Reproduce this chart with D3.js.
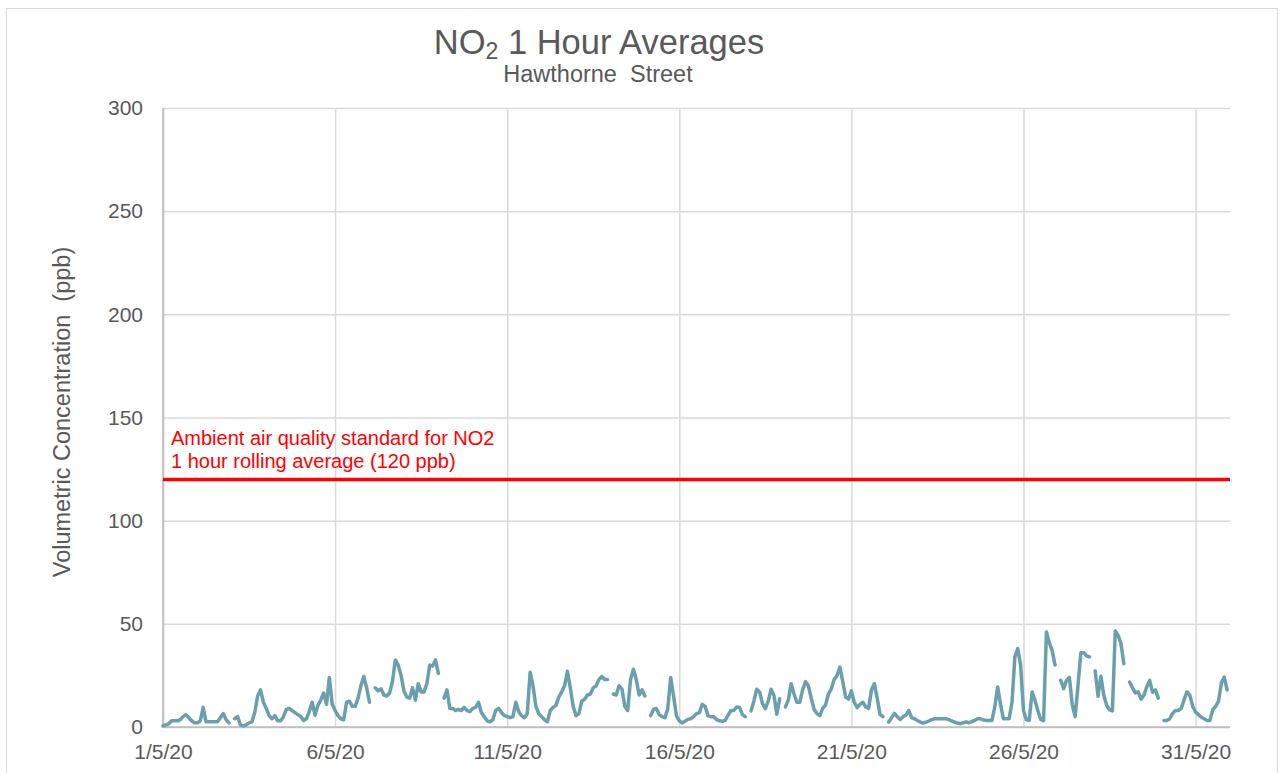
<!DOCTYPE html>
<html><head><meta charset="utf-8">
<script src="https://cdn.jsdelivr.net/npm/d3@7"></script>
<style>
body{margin:0;background:#fff;}
text{font-family:"Liberation Sans",Arial,sans-serif;}
</style>
</head><body>
<svg id="chart" width="1285" height="773"></svg>
<script>
// ---------- data ----------
const titleMain = "NO";
const titleSub = "2";
const titleRest = " 1 Hour Averages";
const subtitle = "Hawthorne  Street";
const yAxisTitle = "Volumetric Concentration  (ppb)";
const standardValue = 120;
const standardLabel = ["Ambient air quality standard for NO2", "1 hour rolling average (120 ppb)"];
const yTicks = [0, 50, 100, 150, 200, 250, 300];
const xTickDays = [1, 6, 11, 16, 21, 26, 31];   // day of May 2020
const stepHours = 2;                              // readings every 2 hours from 1/5/20 00:00
// NO2 (ppb), 12 readings per day, null = missing
const no2 = [
  0.5, 1, 1.5, 3, 3, 3, 3.5, 5, 6, 4.5, 3, 2,
  2, 3, 9.5, 2.5, 2.5, 2.5, 2.5, 2.5, 4.5, 6.5, 3.5, 2,
  null, 4, 5, 1, 0.5, 1, 2, 2.5, 7, 15, 18, 12,
  9, 5.5, 4, 5.5, 3, 3, 5, 8.5, 9, 8, 7, 6,
  5, 3.2, 4, 7.5, 12, 5.7, 10.5, 13, 16.5, 11, 24, 11,
  8, 5.5, 4, 3.5, 12, 12.5, 10, 10, 14, 20, 24.5, 19,
  12, null, 19, 17.5, 18.5, 15.5, 15, 16.5, 22, 32.5, 30, 25,
  17.5, 14.5, 14, 19, 13, 21, 17, 17, 21, 30, 29.5, 32.5,
  26, null, 14, 18, 9, 9, 8, 8.5, 8, 9.5, 8, 7.5,
  9, 9.5, 12, 7, 5, 3, 2.5, 3.5, 8, 9, 7, 5.5,
  5, 4.5, 5, 12, 7.5, 5.5, 4.5, 6.5, 26.5, 20, 10, 6.5,
  5, 3.5, 2.5, 8, 9.5, 10.5, 14.5, 17, 20, 27, 19, 10,
  5.5, 6.5, 12.5, 13.5, 15.5, 16, 19, 20, 23, 24.5, 23, 23,
  null, 16, 15.5, 20, 18.5, 10, 8, 23, 28, 23, 15.5, 18,
  15, null, 5.5, 8.5, 9, 6, 5, 4.5, 9, 24, 15, 5.5,
  3, 2, 2.8, 3.7, 4, 5, 6.5, 7, 11, 10, 5.5, 5,
  5, 3.6, 3, 2.8, 3.2, 5.7, 8, 8, 9.7, 9.5, 6, 5,
  null, 7.8, 12.5, 18.3, 17, 11.3, 8.9, 12.5, 18.3, 15.4, 6.2, 13.7,
  null, 9.7, 13, 21, 16, 12, 12, 18, 22, 20, 14, 8.5,
  6.5, 5.5, 9, 10.7, 16, 18.5, 23, 25, 29, 22, 14.5, 13.5,
  17.5, 12, 9.4, 11, 12, 9.7, 9, 18, 21, 14, 6, 5,
  null, 2.4, 4.4, 6.6, 5, 3.7, 5, 5.7, 8, 4.5, 4, 3.2,
  2.4, 1.9, 2.3, 2.9, 3.6, 4, 4, 4, 4, 4, 3.6, 2.9,
  2.4, 1.9, 1.6, 2.1, 2.4, 2.1, 2.6, 3.2, 4, 4, 3.4, 3.2,
  3.2, 3.2, 9.7, 19.4, 11, 4, 4, 4, 12, 34, 38, 30,
  8, 3.5, 3.2, 17, 13, 8, 3.7, 3, 46, 41, 37, 30,
  null, 22.6, 18.6, 22.6, 24, 11, 5, 20, 36, 36, 34.5, 34,
  null, 27.2, 14.9, 24.6, 15.4, 10.5, 8.4, 7.8, 46.5, 44.4, 40.4, 30.7,
  null, 21.8, 19, 16.5, 17, 13.5, 15.4, 19.5, 22.6, 16.8, 18, 14,
  null, 3.2, 3.2, 4, 6.6, 8, 8, 9, 13.3, 17, 15.4, 10,
  7.3, 6, 4.7, 4, 3.2, 3.2, 8.4, 10, 12.5, 21.3, 24.2, 18
];

// ---------- chart ----------
const W = 1285, H = 773;
const margin = {left: 163, right: 55, top: 108, bottom: 46};
const svg = d3.select("#chart");
const start = Date.UTC(2020, 4, 1);
const series = no2.map((v, i) => ({t: new Date(start + i * stepHours * 3600e3), v}));

const x = d3.scaleUtc()
  .domain([new Date(Date.UTC(2020, 4, 1)), new Date(Date.UTC(2020, 5, 1))])
  .range([margin.left, W - margin.right]);
const y = d3.scaleLinear().domain([0, 300]).range([H - margin.bottom, margin.top]);

// outer frame
svg.append("rect").attr("x", 6.5).attr("y", 8.5).attr("width", 1271).attr("height", 800)
  .attr("fill", "none").attr("stroke", "#d9d9d9").attr("stroke-width", 1);

const tickDates = xTickDays.map(d => new Date(Date.UTC(2020, 4, d)));
const fmt = d3.utcFormat("%-d/%-m/%y");
const FONT = "'Liberation Sans', Arial, sans-serif";

// horizontal grid
const yAxis = d3.axisLeft(y).tickValues(yTicks).tickSize(-(W - margin.left - margin.right)).tickPadding(20);
const gy = svg.append("g").attr("transform", `translate(${margin.left},0)`).call(yAxis);
gy.select(".domain").remove();
gy.selectAll(".tick line").attr("stroke", d => d === 0 ? "#bfbfbf" : "#d9d9d9").attr("stroke-width", 1.5);
gy.selectAll(".tick text").attr("fill", "#595959").attr("font-size", 21).attr("font-family", FONT);

// vertical grid + x labels
const xAxis = d3.axisBottom(x).tickValues(tickDates).tickFormat(fmt)
  .tickSize(-(H - margin.top - margin.bottom)).tickPadding(17);
const gx = svg.append("g").attr("transform", `translate(0,${H - margin.bottom})`).call(xAxis);
gx.select(".domain").remove();
gx.selectAll(".tick line").attr("stroke", (d, i) => i === 0 ? "#bfbfbf" : "#d9d9d9").attr("stroke-width", 1.5);
gx.selectAll(".tick text").attr("fill", "#595959").attr("font-size", 21).attr("font-family", FONT);

// axis lines
svg.append("line").attr("x1", margin.left).attr("x2", W - margin.right)
  .attr("y1", y(0)).attr("y2", y(0)).attr("stroke", "#bfbfbf").attr("stroke-width", 1.5);
svg.append("line").attr("x1", margin.left).attr("x2", margin.left)
  .attr("y1", y(0)).attr("y2", y(300)).attr("stroke", "#bfbfbf").attr("stroke-width", 1.5);

// data line
const line = d3.line().defined(d => d.v != null).x(d => x(d.t)).y(d => y(d.v));
svg.append("path").datum(series).attr("d", line)
  .attr("fill", "none").attr("stroke", "#6a9fae").attr("stroke-width", 3.5)
  .attr("stroke-linejoin", "round").attr("stroke-linecap", "round");

// standard line
svg.append("line").attr("x1", margin.left).attr("x2", W - margin.right)
  .attr("y1", y(standardValue)).attr("y2", y(standardValue))
  .attr("stroke", "#ff0000").attr("stroke-width", 3.5);
svg.append("text").attr("x", 171).attr("y", 445).attr("fill", "#ff0000").attr("font-size", 20)
  .selectAll("tspan").data(standardLabel).join("tspan")
  .attr("x", 171).attr("dy", (d, i) => i === 0 ? 0 : 23).text(d => d);

// titles
const t = svg.append("text").attr("x", 599).attr("y", 54).attr("text-anchor", "middle")
  .attr("fill", "#595959").attr("font-size", 34.5);
t.append("tspan").text(titleMain);
t.append("tspan").attr("font-size", 23).attr("dy", 5).text(titleSub);
t.append("tspan").attr("dy", -5).text(titleRest);

svg.append("text").attr("x", 598).attr("y", 82).attr("text-anchor", "middle")
  .attr("fill", "#595959").attr("font-size", 23.5).style("white-space", "pre").text(subtitle);

svg.append("text").attr("transform", "translate(70,412) rotate(-90)").attr("text-anchor", "middle")
  .attr("fill", "#595959").attr("font-size", 23.5).style("white-space", "pre").text(yAxisTitle);
</script>
</body></html>
